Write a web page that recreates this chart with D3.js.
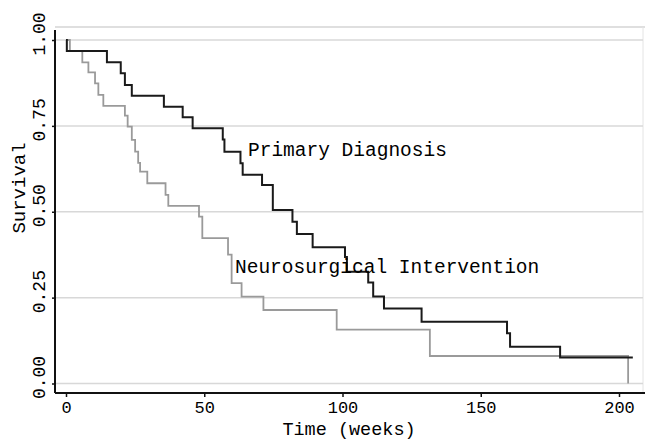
<!DOCTYPE html>
<html>
<head>
<meta charset="utf-8">
<script src="https://cdn.jsdelivr.net/npm/d3@7"></script>
<style>
  body { margin: 0; background: #fff; }
  text { font-family: "Liberation Mono", "Courier New", monospace; fill: #000; }
</style>
</head>
<body>
<div class="plot-1"></div>
<script>
/* curvas de sobrevida (Kaplan-Meier) */
var pdTimes = [0, 0.3, 14.8, 19.8, 21.3, 23.8, 35.4, 42.2, 45.8, 56.7, 57.3, 63.1, 63.9,
               70.9, 74.8, 81.9, 83.5, 89.2, 100.9, 101.6, 109.3, 111.1, 115.0, 128.6,
               159.5, 160.6, 178.7, 205];
var pdSurv = [1, 0.968, 0.935, 0.903, 0.869, 0.838, 0.806, 0.775, 0.743, 0.71, 0.675, 0.641, 0.608,
              0.578, 0.505, 0.471, 0.435, 0.397, 0.368, 0.325, 0.294, 0.253, 0.218, 0.180,
              0.146, 0.107, 0.076, 0.076];

var niTimes = [0, 1.4, 5.9, 8.1, 10.5, 11.7, 13.5, 21.3, 22.3, 23.8, 25.0, 26.1, 26.8,
               29.4, 36.0, 37.0, 48.1, 49.3, 58.6, 59.9, 63.5, 71.4, 97.9, 131.6, 203.3];
var niSurv = [1, 0.968, 0.935, 0.906, 0.874, 0.840, 0.808, 0.780, 0.748, 0.709, 0.675, 0.642, 0.617,
              0.583, 0.549, 0.517, 0.486, 0.423, 0.375, 0.292, 0.253, 0.214, 0.157, 0.080, 0];

var xTicks = [0, 50, 100, 150, 200];
var yTicks = [0, 0.25, 0.5, 0.75, 1];
var labels = ['Primary Diagnosis', 'Neurosurgical Intervention'];

var svgDims = {width: 645, height: 441};
var box = {left: 55, right: 643, top: 27, bottom: 393};

var svg = d3.select('.plot-1')
            .append('svg')
            .attr('width', svgDims.width)
            .attr('height', svgDims.height);

var xScale = d3.scaleLinear().domain([0, 200]).range([66, 619]);
var yScale = d3.scaleLinear().domain([0, 1]).range([383.5, 40]);

//moldura clara
svg.append('line')
   .attr('x1', box.left).attr('x2', svgDims.width)
   .attr('y1', box.top).attr('y2', box.top)
   .attr('stroke', '#d4d4d4').attr('stroke-width', 1.5);
svg.append('line')
   .attr('x1', box.right).attr('x2', box.right)
   .attr('y1', box.top).attr('y2', box.bottom)
   .attr('stroke', '#e4e4e4').attr('stroke-width', 1);

//grade horizontal
svg.append('g')
   .selectAll('line')
   .data(yTicks)
   .enter().append('line')
   .attr('x1', box.left).attr('x2', box.right)
   .attr('y1', function(d){ return yScale(d); })
   .attr('y2', function(d){ return yScale(d); })
   .attr('stroke', '#d8d8d8').attr('stroke-width', 1.5);

//curvas
var line = d3.line()
             .x(function(d){ return xScale(d[0]); })
             .y(function(d){ return yScale(d[1]); })
             .curve(d3.curveStepAfter);

svg.append('path')
   .datum(d3.zip(niTimes, niSurv))
   .attr('d', line)
   .attr('fill', 'none')
   .attr('stroke', '#9a9a9a')
   .attr('stroke-width', 1.8);

svg.append('path')
   .datum(d3.zip(pdTimes, pdSurv))
   .attr('d', line)
   .attr('fill', 'none')
   .attr('stroke', '#1a1a1a')
   .attr('stroke-width', 2);

//eixos
var xAxis = d3.axisBottom(xScale).tickValues(xTicks).tickSize(4).tickPadding(4);
var yAxis = d3.axisLeft(yScale).tickValues(yTicks).tickSize(3).tickFormat(d3.format('.2f'));

var gx = svg.append('g')
            .attr('transform', 'translate(0,' + box.bottom + ')')
            .call(xAxis);
gx.select('.domain').attr('d', 'M' + box.left + ',0H' + svgDims.width).attr('stroke', '#111').attr('stroke-width', 2);
gx.selectAll('.tick line').attr('stroke', '#111').attr('stroke-width', 1.5);
gx.selectAll('text').style('font-size', '17px').attr('fill', '#000');

var gy = svg.append('g')
            .attr('transform', 'translate(' + box.left + ',0)')
            .call(yAxis);
gy.select('.domain').attr('d', 'M0,30V' + box.bottom).attr('stroke', '#111').attr('stroke-width', 2);
gy.selectAll('.tick line').attr('stroke', '#111').attr('stroke-width', 1.5);
gy.selectAll('text')
  .style('font-size', '18px')
  .attr('fill', '#000')
  .attr('x', null).attr('dy', null)
  .style('text-anchor', 'middle')
  .attr('transform', 'translate(-10,-6.5) rotate(-90)');

//títulos dos eixos
svg.append('text')
   .attr('x', (box.left + box.right) / 2)
   .attr('y', 434.5)
   .style('text-anchor', 'middle')
   .style('font-size', '18.5px')
   .text('Time (weeks)');

svg.append('text')
   .attr('transform', 'translate(25,188) rotate(-90)')
   .style('text-anchor', 'middle')
   .style('font-size', '19px')
   .text('Survival');

//rótulos das curvas
svg.append('text')
   .attr('x', 248).attr('y', 156)
   .style('font-size', '19.5px')
   .text(labels[0]);

svg.append('text')
   .attr('x', 235).attr('y', 273)
   .style('font-size', '19.5px')
   .text(labels[1]);
</script>
</body>
</html>
